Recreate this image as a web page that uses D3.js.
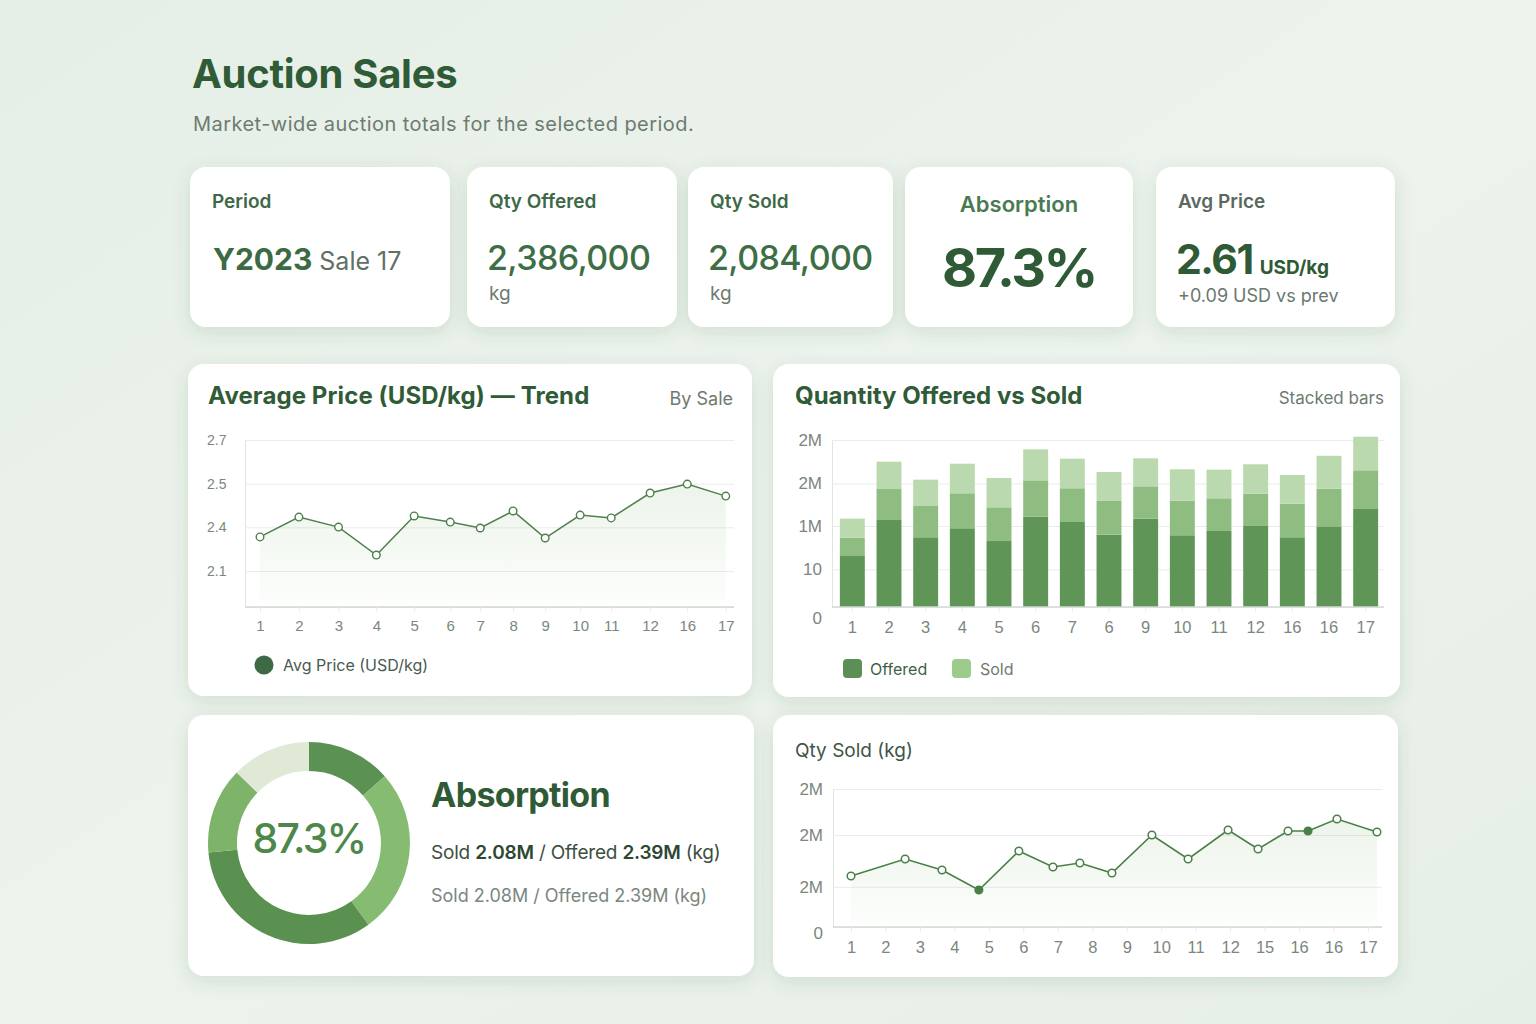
<!DOCTYPE html>
<html lang="en">
<head>
<meta charset="UTF-8">
<script src="https://d3js.org/d3.v7.min.js"></script>
<title>Auction Sales</title>
<style>
  body { margin: 0; padding: 0; background: #e8f1e9; }
  svg { display: block; font-family: Inter, "Noto Sans", sans-serif; }
  .tick line { stroke: #e9ecea; }
  .axt text { fill: #7b867e; }
</style>
</head>
<body>
<div id="box"></div>
<script>
// ---- data ----
const priceLabels = ["1","2","3","4","5","6","7","8","9","10","11","12","16","17"];
const pricePos = [0, 1.09, 2.2, 3.26, 4.32, 5.33, 6.17, 7.09, 7.99, 8.97, 9.84, 10.93, 11.97, 13.05];
const priceVals = [2.256, 2.347, 2.301, 2.173, 2.352, 2.324, 2.297, 2.375, 2.251, 2.356, 2.343, 2.457, 2.498, 2.443];
const priceTicks = [2.7, 2.5, 2.3, 2.1];
const priceTickLabels = ["2.7", "2.5", "2.4", "2.1"];

const qtyLabels = ["1","2","3","4","5","6","7","6","9","10","11","12","16","16","17"];
const segDark = [0.619, 1.042, 0.835, 0.943, 0.790, 1.081, 1.018, 0.866, 1.057, 0.859, 0.910, 0.970, 0.835, 0.966, 1.174];
const segMid = [0.211, 0.371, 0.375, 0.419, 0.404, 0.436, 0.404, 0.404, 0.388, 0.414, 0.392, 0.387, 0.402, 0.450, 0.463];
const segLight = [0.228, 0.327, 0.315, 0.354, 0.351, 0.371, 0.354, 0.347, 0.335, 0.376, 0.343, 0.352, 0.344, 0.395, 0.402];
const qtyTicks = [0, 0.45, 0.97, 1.48, 2.0];
const qtyTickLabels = ["0", "10", "1M", "2M", "2M"];

const soldLabels = ["1","2","3","4","5","6","7","8","9","10","11","12","15","16","16","17"];
const soldPos = [0, 1.57, 2.64, 3.71, 4.87, 5.86, 6.64, 7.57, 8.73, 9.78, 10.94, 11.81, 12.68, 13.26, 14.1, 15.26];
const soldVals = [0.887, 1.183, 0.991, 0.643, 1.322, 1.043, 1.113, 0.939, 1.600, 1.183, 1.687, 1.357, 1.670, 1.670, 1.878, 1.652];
const soldFilled = [3, 13];
const soldTicks = [0, 0.7, 1.6, 2.4];
const soldTickLabels = ["0", "2M", "2M", "2M"];

const donutVals = [13.5, 26.5, 33.5, 13.8, 12.7];
const donutColors = ["#5b9152", "#86bc72", "#5a9050", "#7db46a", "#dfe9d5"];

const kpis = [
  { x: 190, w: 260, label: "Period" },
  { x: 467, w: 210, label: "Qty Offered", val: "2,386,000", unit: "kg" },
  { x: 688, w: 205, label: "Qty Sold", val: "2,084,000", unit: "kg" },
  { x: 905, w: 228, label: "Absorption" },
  { x: 1156, w: 239, label: "Avg Price" }
];

// ---- page ----
const svg = d3.select("#box").append("svg").attr("width", 1536).attr("height", 1024);
const defs = svg.append("defs");
const bg = defs.append("linearGradient").attr("id", "bg").attr("x1", 0).attr("y1", 0).attr("x2", 1).attr("y2", 1);
bg.append("stop").attr("offset", 0).attr("stop-color", "#e5efe6");
bg.append("stop").attr("offset", 0.5).attr("stop-color", "#edf3ed");
bg.append("stop").attr("offset", 1).attr("stop-color", "#e6efe7");
const sh = defs.append("filter").attr("id", "sh").attr("x", -0.2).attr("y", -0.2).attr("width", 1.4).attr("height", 1.5);
sh.append("feDropShadow").attr("dx", 0).attr("dy", 5).attr("stdDeviation", 9)
  .attr("flood-color", "#2f5a36").attr("flood-opacity", 0.13);
const ar = defs.append("linearGradient").attr("id", "ar").attr("x1", 0).attr("y1", 0).attr("x2", 0).attr("y2", 1);
ar.append("stop").attr("offset", 0).attr("stop-color", "#8dbb80").attr("stop-opacity", 0.16);
ar.append("stop").attr("offset", 1).attr("stop-color", "#8dbb80").attr("stop-opacity", 0.03);

svg.append("rect").attr("width", 1536).attr("height", 1024).attr("fill", "url(#bg)");

svg.append("text").attr("x", 192).attr("y", 88).attr("font-size", 40).attr("font-weight", 700)
  .attr("fill", "#2f5b37").attr("letter-spacing", -0.3).text("Auction Sales");
svg.append("text").attr("x", 193).attr("y", 131).attr("font-size", 20).attr("letter-spacing", 0.45)
  .attr("fill", "#6d7b71").text("Market-wide auction totals for the selected period.");

function card(x, y, w, h) {
  svg.append("rect").attr("x", x).attr("y", y).attr("width", w).attr("height", h)
    .attr("rx", 16).attr("fill", "#fff").attr("filter", "url(#sh)");
}

// KPI cards
kpis.forEach(k => card(k.x, 167, k.w, 160));
kpis.forEach((k, i) => {
  if (i == 3) return;
  svg.append("text").attr("x", k.x + 22).attr("y", 208).attr("font-size", 19).attr("font-weight", 600)
    .attr("fill", i == 4 ? "#5a685e" : "#3e6947").text(k.label);
  if (k.val) {
    svg.append("text").attr("x", k.x + 20).attr("y", 270).attr("font-size", 34).attr("font-weight", 500)
      .attr("letter-spacing", -0.6).attr("fill", "#3d6e45").text(k.val);
    svg.append("text").attr("x", k.x + 22).attr("y", 300).attr("font-size", 19)
      .attr("fill", "#6f7c72").text(k.unit);
  }
});
let pt = svg.append("text").attr("x", 213).attr("y", 270);
pt.append("tspan").attr("font-size", 30).attr("font-weight", 700).attr("fill", "#3b6a43").text("Y2023");
pt.append("tspan").attr("font-size", 25).attr("fill", "#617065").attr("dx", 7).text("Sale 17");
svg.append("text").attr("x", 1019).attr("y", 212).attr("text-anchor", "middle").attr("font-size", 22)
  .attr("font-weight", 600).attr("fill", "#4a7a52").text("Absorption");
svg.append("text").attr("x", 1019).attr("y", 287).attr("text-anchor", "middle").attr("font-size", 54)
  .attr("font-weight", 700).attr("letter-spacing", -2.5).attr("fill", "#2f5a36").text("87.3%");
let ap = svg.append("text").attr("x", 1176).attr("y", 274);
ap.append("tspan").attr("font-size", 41).attr("font-weight", 700).attr("fill", "#2f5a36").attr("letter-spacing", -1.5).text("2.61");
ap.append("tspan").attr("font-size", 19).attr("font-weight", 700).attr("fill", "#2f5a36").attr("dx", 7).attr("letter-spacing", 0).text("USD/kg");
svg.append("text").attr("x", 1178).attr("y", 302).attr("font-size", 18).attr("fill", "#6a786e").text("+0.09 USD vs prev");

// panels
card(188, 364, 564, 332);
card(773, 364, 627, 333);
card(188, 715, 566, 261);
card(773, 715, 625, 262);

// ---- price trend ----
svg.append("text").attr("x", 208).attr("y", 404).attr("font-size", 24).attr("font-weight", 700)
  .attr("fill", "#2f5b37").attr("letter-spacing", 0.1).text("Average Price (USD/kg) \u2014 Trend");
svg.append("text").attr("x", 733).attr("y", 405).attr("text-anchor", "end").attr("font-size", 18)
  .attr("fill", "#6d7a70").text("By Sale");

let px = d3.scaleLinear().domain([0, 13]).range([260, 724]);
let py = d3.scaleLinear().domain([1.935, 2.7]).range([607, 440]);

svg.append("g").attr("class", "axt").attr("transform", "translate(245,0)")
  .call(d3.axisLeft(py).tickValues(priceTicks).tickFormat((d, i) => priceTickLabels[i]).tickSize(-489).tickPadding(16))
  .call(g => g.select(".domain").attr("stroke", "#e0e5e1"))
  .call(g => g.selectAll("text").style("font-size", "14px").attr("text-anchor", "start").attr("x", -38));
svg.append("g").attr("class", "axt").attr("transform", "translate(0,607)")
  .call(d3.axisBottom(px).tickValues(pricePos).tickFormat((d, i) => priceLabels[i]).tickSize(5).tickPadding(8))
  .call(g => g.select(".domain").attr("d", "M245,0H734").attr("stroke", "#d3dad4").attr("stroke-width", 1.5))
  .call(g => g.selectAll("line").attr("stroke", "#d3dad4"))
  .call(g => g.selectAll("text").style("font-size", "15px"));

let pdata = priceVals.map((v, i) => ({ x: pricePos[i], y: v }));
svg.append("path").datum(pdata).attr("fill", "url(#ar)")
  .attr("d", d3.area().x(d => px(d.x)).y0(600).y1(d => py(d.y)));
svg.append("path").datum(pdata).attr("fill", "none").attr("stroke", "#4e7f4c").attr("stroke-width", 1.5)
  .attr("d", d3.line().x(d => px(d.x)).y(d => py(d.y)));
svg.selectAll(".pdot").data(pdata).enter().append("circle").attr("class", "pdot")
  .attr("cx", d => px(d.x)).attr("cy", d => py(d.y)).attr("r", 3.8)
  .attr("fill", "#fff").attr("stroke", "#4e7f4c").attr("stroke-width", 1.4);

svg.append("circle").attr("cx", 264).attr("cy", 665).attr("r", 9.5).attr("fill", "#3d6a45");
svg.append("text").attr("x", 283).attr("y", 671).attr("font-size", 16).attr("fill", "#4a5a4f").text("Avg Price (USD/kg)");

// ---- stacked bars ----
svg.append("text").attr("x", 795).attr("y", 404).attr("font-size", 24).attr("font-weight", 700)
  .attr("fill", "#2f5b37").text("Quantity Offered vs Sold");
svg.append("text").attr("x", 1384).attr("y", 404).attr("text-anchor", "end").attr("font-size", 17)
  .attr("fill", "#6d7a70").text("Stacked bars");

let bx = d3.scaleBand().domain(d3.range(qtyLabels.length)).range([834, 1384]).paddingInner(0.32).paddingOuter(0.16);
let by = d3.scaleLinear().domain([0, 2.0]).range([607, 440]);

svg.append("g").attr("class", "axt").attr("transform", "translate(832,0)")
  .call(d3.axisLeft(by).tickValues(qtyTicks).tickFormat((d, i) => qtyTickLabels[i]).tickSize(-552).tickPadding(10))
  .call(g => g.select(".domain").attr("stroke", "#e0e5e1"))
  .call(g => g.selectAll("text").style("font-size", "17px").attr("dy", (d, i) => i == 0 ? "0.95em" : "0.32em"));

let rows = qtyLabels.map((l, i) => ({ i: i, a: segDark[i], b: segMid[i], c: segLight[i] }));
let stack = d3.stack().keys(["a", "b", "c"])(rows);
let segCol = { a: "#5f9556", b: "#8fbd81", c: "#bad9ae" };
svg.selectAll(".ser").data(stack).enter().append("g").attr("fill", d => segCol[d.key])
  .selectAll("rect").data(d => d).enter().append("rect")
  .attr("x", d => bx(d.data.i)).attr("width", bx.bandwidth())
  .attr("y", d => by(d[1])).attr("height", d => by(d[0]) - by(d[1]));

svg.append("g").attr("class", "axt").attr("transform", "translate(0,607)")
  .call(d3.axisBottom(bx).tickFormat(i => qtyLabels[i]).tickSize(5).tickPadding(9))
  .call(g => g.select(".domain").attr("d", "M832,0H1384").attr("stroke", "#d3dad4").attr("stroke-width", 1.5))
  .call(g => g.selectAll("line").attr("stroke", "#d3dad4"))
  .call(g => g.selectAll("text").style("font-size", "16.5px"));

svg.append("rect").attr("x", 843).attr("y", 659).attr("width", 19).attr("height", 19).attr("rx", 4).attr("fill", "#5b8f55");
svg.append("text").attr("x", 870).attr("y", 675).attr("font-size", 16).attr("fill", "#3e5f45").text("Offered");
svg.append("rect").attr("x", 952).attr("y", 659).attr("width", 19).attr("height", 19).attr("rx", 4).attr("fill", "#9ccb8c");
svg.append("text").attr("x", 980).attr("y", 675).attr("font-size", 16).attr("fill", "#6d7c70").text("Sold");

// ---- donut ----
let pie = d3.pie().sort(null).value(d => d)(donutVals);
let arc = d3.arc().innerRadius(72).outerRadius(101);
svg.append("g").attr("transform", "translate(309,843)")
  .selectAll("path").data(pie).enter().append("path")
  .attr("d", arc).attr("fill", (d, i) => donutColors[i]);
svg.append("text").attr("x", 309).attr("y", 853).attr("text-anchor", "middle").attr("font-size", 41)
  .attr("font-weight", 500).attr("fill", "#4d874b").attr("letter-spacing", -1.8).text("87.3%");
svg.append("text").attr("x", 431).attr("y", 807).attr("font-size", 34).attr("font-weight", 700)
  .attr("fill", "#2f5a36").attr("letter-spacing", -0.7).text("Absorption");
let l1 = svg.append("text").attr("x", 431).attr("y", 859).attr("font-size", 19).attr("letter-spacing", -0.2).attr("fill", "#3d4f42");
[["Sold ", 400], ["2.08M", 600], [" / Offered ", 400], ["2.39M", 600], [" (kg)", 400]].forEach(p => {
  l1.append("tspan").attr("font-weight", p[1]).attr("fill", p[1] > 400 ? "#2c4732" : "#3d4f42").text(p[0]);
});
svg.append("text").attr("x", 431).attr("y", 902).attr("font-size", 18).attr("fill", "#7b867e")
  .text("Sold 2.08M / Offered 2.39M (kg)");

// ---- qty sold line ----
svg.append("text").attr("x", 795).attr("y", 757).attr("font-size", 19).attr("fill", "#3f5446").text("Qty Sold (kg)");

let sx = d3.scaleLinear().domain([0, 15]).range([851, 1368]);
let sy = d3.scaleLinear().domain([0, 2.4]).range([927, 789]);

svg.append("g").attr("class", "axt").attr("transform", "translate(833,0)")
  .call(d3.axisLeft(sy).tickValues(soldTicks).tickFormat((d, i) => soldTickLabels[i]).tickSize(-549).tickPadding(10))
  .call(g => g.select(".domain").attr("stroke", "#e0e5e1"))
  .call(g => g.selectAll("text").style("font-size", "17px").attr("dy", (d, i) => i == 0 ? "0.7em" : "0.32em"));
svg.append("g").attr("class", "axt").attr("transform", "translate(0,927)")
  .call(d3.axisBottom(sx).tickValues(d3.range(soldLabels.length)).tickFormat((d, i) => soldLabels[i]).tickSize(5).tickPadding(9))
  .call(g => g.select(".domain").attr("d", "M833,0H1382").attr("stroke", "#d3dad4").attr("stroke-width", 1.5))
  .call(g => g.selectAll("line").attr("stroke", "#d3dad4"))
  .call(g => g.selectAll("text").style("font-size", "16.5px"));

let sdata = soldVals.map((v, i) => ({ x: soldPos[i], y: v, f: soldFilled.includes(i) }));
svg.append("path").datum(sdata).attr("fill", "url(#ar)")
  .attr("d", d3.area().x(d => sx(d.x)).y0(921).y1(d => sy(d.y)));
svg.append("path").datum(sdata).attr("fill", "none").attr("stroke", "#4a8048").attr("stroke-width", 1.6)
  .attr("d", d3.line().x(d => sx(d.x)).y(d => sy(d.y)));
svg.selectAll(".sdot").data(sdata).enter().append("circle").attr("class", "sdot")
  .attr("cx", d => sx(d.x)).attr("cy", d => sy(d.y)).attr("r", 3.8)
  .attr("fill", d => d.f ? "#4a8048" : "#fff").attr("stroke", "#4a8048").attr("stroke-width", 1.5);
</script>
</body>
</html>
